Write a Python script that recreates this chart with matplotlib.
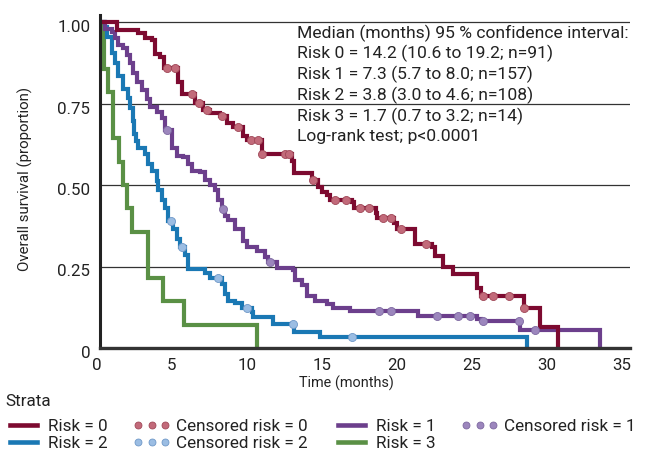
import matplotlib
matplotlib.use("Agg")
import matplotlib.pyplot as plt
from matplotlib.lines import Line2D
from matplotlib.legend_handler import HandlerLine2D
import matplotlib.transforms as mtrans

plt.rcParams['font.family'] = ['Roboto', 'DejaVu Sans']

# ---------------- data ----------------
risk0_t = [0, 1.11, 2.53, 3.0, 3.45, 3.67, 4.0, 4.27, 5.22, 5.45, 6.33, 6.89, 7.33, 8.0,
           8.45, 8.89, 9.55, 9.78, 10.78, 12.78, 12.93, 14.11, 14.55, 14.78, 15.11, 15.33,
           16.83, 16.93, 18.37, 18.47, 19.6, 19.8, 21.0, 22.11, 22.33, 22.89, 23.55, 25.13,
           25.4, 28.27, 29.33, 30.5]
risk0_s = [1.0, .976, .965, .952, .945, .902, .892, .859, .815, .778, .752, .730, .720, .712,
           .690, .677, .650, .638, .595, .574, .538, .514, .495, .480, .469, .454,
           .447, .429, .413, .399, .384, .366, .319, .309, .282, .249, .227, .184,
           .159, .124, .064, 0.0]
cens0_t = [4.45, 5.0, 6.11, 6.6, 7.1, 8.11, 9.22, 10.05, 10.55, 10.8, 12.33, 12.63, 14.2,
           15.67, 16.4, 17.3, 17.95, 18.89, 19.38, 20.07, 21.73, 25.55, 26.18, 27.29, 28.27]
cens0_s = [.859, .859, .778, .752, .730, .712, .677, .638, .638, .595, .595, .595, .514,
           .454, .454, .429, .429, .399, .399, .366, .319, .159, .159, .159, .124]

risk1_t = [0, 0.33, 0.78, 1.0, 1.22, 1.55, 1.78, 2.0, 2.22, 2.45, 2.78, 3.11, 3.33, 3.78,
           4.11, 4.33, 4.78, 5.11, 5.55, 5.89, 6.11, 6.67, 7.0, 7.33, 7.67, 7.89, 8.1, 8.3,
           8.55, 9.0, 9.55, 9.78, 10.45, 11.0, 11.2, 11.78, 12.89, 13.0, 13.45, 13.78, 14.33,
           15.11, 15.55, 16.67, 21.22, 25.11, 25.4, 28.0, 33.33]
risk1_s = [1.0, .980, .970, .950, .930, .920, .900, .875, .845, .815, .790, .765, .740, .725,
           .705, .670, .615, .590, .585, .565, .544, .540, .514, .499, .484, .454, .425, .405,
           .394, .364, .329, .309, .299, .279, .264, .244, .239, .209, .194, .159, .144,
           .134, .124, .113, .099, .089, .084, .056, 0.0]
cens1_t = [4.45, 8.2, 11.33, 18.62, 19.38, 22.45, 23.89, 24.67, 25.55, 27.9, 29.0]
cens1_s = [.670, .425, .264, .113, .113, .099, .099, .099, .084, .084, .056]

risk2_t = [0, 0.3, 0.45, 0.78, 1.0, 1.22, 1.55, 1.89, 2.0, 2.22, 2.27, 2.4, 2.55, 3.0, 3.22,
           3.45, 3.78, 3.89, 4.11, 4.33, 4.53, 4.89, 5.11, 5.33, 5.67, 5.89, 7.0, 7.33, 8.11,
           8.33, 8.55, 9.0, 9.45, 10.11, 10.22, 11.55, 12.95, 14.67, 28.47]
risk2_s = [1.0, .985, .955, .905, .875, .835, .796, .766, .736, .695, .655, .634, .615, .595,
           .565, .544, .511, .484, .454, .429, .390, .364, .334, .309, .285, .241, .229, .214,
           .195, .165, .144, .139, .124, .109, .094, .074, .049, .034, 0.0]
cens2_t = [4.73, 5.49, 7.85, 9.78, 12.89, 16.82]
cens2_s = [.390, .309, .214, .124, .074, .034]

risk3_t = [0, 0.29, 0.53, 0.87, 1.27, 1.53, 1.8, 2.13, 3.17, 4.2, 5.6, 10.47]
risk3_s = [1.0, .857, .786, .643, .571, .5, .429, .357, .214, .143, .071, 0.0]

xticks = [0, 5, 10, 15, 20, 25, 30, 35]
yticks = [0, 0.25, 0.5, 0.75, 1.0]
ytick_labels = ['0', '0.25', '0.50', '0.75', '1.00']

info_lines = ["Median (months) 95 % confidence interval:",
              "Risk 0 = 14.2 (10.6 to 19.2; n=91)",
              "Risk 1 = 7.3 (5.7 to 8.0; n=157)",
              "Risk 2 = 3.8 (3.0 to 4.6; n=108)",
              "Risk 3 = 1.7 (0.7 to 3.2; n=14)",
              "Log-rank test; p<0.0001"]

# ---------------- style ----------------
c0, c1, c2, c3 = '#7d0a30', '#6c3f8c', '#1a78b4', '#5a9045'
m0, m1, m2 = '#c26a7a', '#9c86bd', '#9bbde3'
e0, e1, e2 = '#a04858', '#7d68a0', '#6f98c8'
txt = '#222222'
fs_info = 12.6
fs_leg = 12.3
fs_tick = 12.2
fs_ylab = 10.8
fs_xlab = 10.4

W, H = 647, 455
fig = plt.figure(figsize=(W / 100, H / 100), dpi=100)
L, R, T, B = 100, 630, 15, 348
ax = fig.add_axes([L / W, 1 - B / H, (R - L) / W, (B - T) / H])

ax.set_xlim(0, (R - L) / 15.0)
ax.set_ylim(0, 1 + 7 / 326)

for y in yticks[1:]:
    ax.axhline(y, color='#333333', lw=0.9, zorder=1)

lw = 3.0
for tt, ss, cc, z in [(risk0_t, risk0_s, c0, 3.3), (risk1_t, risk1_s, c1, 3.2),
                      (risk2_t, risk2_s, c2, 3.1), (risk3_t, risk3_s, c3, 3.0)]:
    ax.plot(tt, ss, drawstyle='steps-post', color=cc, lw=lw, zorder=z,
            solid_joinstyle='miter', solid_capstyle='butt')

ms = 5.8
ax.plot(cens0_t, cens0_s, ls='none', marker='o', ms=ms, mfc=m0, mec=e0, mew=0.6, zorder=4)
ax.plot(cens1_t, cens1_s, ls='none', marker='o', ms=ms, mfc=m1, mec=e1, mew=0.6, zorder=4)
ax.plot(cens2_t, cens2_s, ls='none', marker='o', ms=ms, mfc=m2, mec=e2, mew=0.6, zorder=4)

for s in ['top', 'right']:
    ax.spines[s].set_visible(False)
ax.spines['left'].set_linewidth(2.2)
ax.spines['left'].set_color('#222222')
ax.spines['bottom'].set_linewidth(2.4)
ax.spines['bottom'].set_color('#333333')
ax.spines['left'].set_zorder(5)
ax.spines['bottom'].set_zorder(5)

ax.set_xticks(xticks)
ax.set_xticklabels([str(v) for v in xticks])
ax.set_yticks(yticks)
ax.set_yticklabels(ytick_labels)
ax.tick_params(length=0, labelsize=fs_tick, colors=txt)
ax.tick_params(axis='x', pad=7)
ax.tick_params(axis='y', pad=7)
off = mtrans.ScaledTranslation(0, -4 / 100, fig.dpi_scale_trans)
for lab in ax.get_yticklabels():
    lab.set_transform(lab.get_transform() + off)
offx = mtrans.ScaledTranslation(-3 / 100, 0, fig.dpi_scale_trans)
for lab in ax.get_xticklabels():
    lab.set_transform(lab.get_transform() + offx)

fig.text(25 / W, 1 - 179 / H, 'Overall survival (proportion)', rotation=90,
         ha='center', va='center', fontsize=fs_ylab, color=txt)
fig.text(346 / W, 1 - 383 / H, 'Time (months)', ha='center', va='center',
         fontsize=fs_xlab, color=txt)

for i, line in enumerate(info_lines):
    fig.text(297 / W, 1 - (33 + 20.8 * i) / H, line, ha='left', va='center',
             fontsize=fs_info, color=txt)

# legend
fig.text(5 / W, 1 - 402 / H, 'Strata', ha='left', va='center', fontsize=fs_leg, color=txt)
h_r0 = Line2D([], [], color=c0, lw=3.3)
h_r1 = Line2D([], [], color=c1, lw=3.3)
h_r2 = Line2D([], [], color=c2, lw=3.3)
h_r3 = Line2D([], [], color=c3, lw=3.3)
h_c0 = Line2D([], [], ls='none', marker='o', ms=5.0, mfc=m0, mec=e0, mew=0.6)
h_c1 = Line2D([], [], ls='none', marker='o', ms=5.0, mfc=m1, mec=e1, mew=0.6)
h_c2 = Line2D([], [], ls='none', marker='o', ms=5.0, mfc=m2, mec=e2, mew=0.6)
handles = [h_r0, h_r2, h_c0, h_c2, h_r1, h_r3, h_c1]
labels = ['Risk = 0', 'Risk = 2', 'Censored risk = 0', 'Censored risk = 2',
          'Risk = 1', 'Risk = 3', 'Censored risk = 1']
leg = fig.legend(handles, labels, loc='center left', bbox_to_anchor=(1.5 / W, 1 - 435 / H),
                 ncol=4, frameon=False, fontsize=fs_leg, borderaxespad=0,
                 handlelength=2.2, handletextpad=0.35, columnspacing=1.45,
                 labelspacing=0.15, borderpad=0.2, numpoints=3,
                 handler_map={h_c0: HandlerLine2D(numpoints=3),
                              h_c1: HandlerLine2D(numpoints=3),
                              h_c2: HandlerLine2D(numpoints=3)})
for t in leg.get_texts():
    t.set_color(txt)

fig.savefig('out.png', dpi=100)
